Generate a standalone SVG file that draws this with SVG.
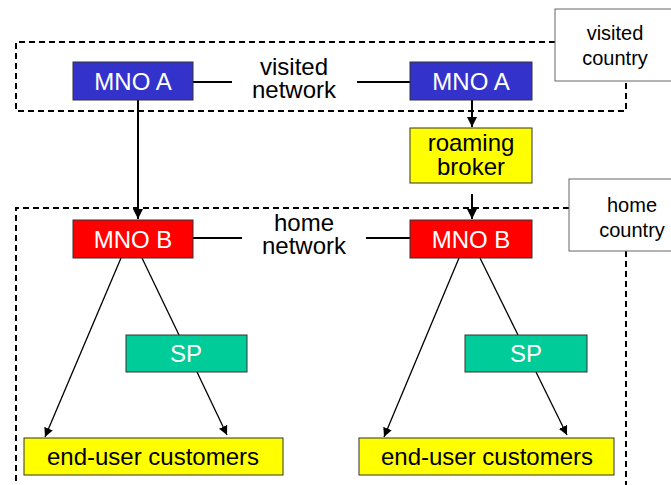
<svg xmlns="http://www.w3.org/2000/svg" width="671" height="485" viewBox="0 0 671 485">
  <style>
    text { font-family: "Liberation Sans", Arial, sans-serif; font-size: 24px; text-anchor: middle; }
    .box { stroke: #333; stroke-width: 1; }
    .light { fill: #fff; }
    .dark { fill: #000; }
    .tag { fill: #fff; stroke: #666; stroke-width: 1; }
    .tag-text { font-size: 20px; fill: #000; }
    .zone { fill: none; stroke: #000; stroke-width: 2; stroke-dasharray: 6 4; }
    .link { fill: none; stroke: #000; stroke-width: 2; }
    .thin { fill: none; stroke: #000; stroke-width: 1.3; }
  </style>
  <defs>
    <marker id="arrow" viewBox="0 0 10 10" refX="10" refY="5" markerWidth="5" markerHeight="5" orient="auto" markerUnits="strokeWidth">
      <path d="M0,0 L10,5 L0,10 z" fill="#000"/>
    </marker>
    <marker id="arrow-thin" viewBox="0 0 10 10" refX="10" refY="5" markerWidth="7" markerHeight="7" orient="auto" markerUnits="strokeWidth">
      <path d="M0,0 L10,5 L0,10 z" fill="#000"/>
    </marker>
  </defs>

  <rect width="671" height="485" fill="#fff"/>

  <!-- country zones (dashed) -->
  <g id="zones">
    <path class="zone" d="M555,42 H16 V111 H626 V81"/>
    <path class="zone" d="M569,208 H16 V490 M626,251 V490"/>
  </g>

  <!-- connectors -->
  <g id="connectors">
    <line class="link" x1="193" y1="82" x2="232" y2="82"/>
    <line class="link" x1="357" y1="82" x2="410" y2="82"/>
    <line class="link" x1="193" y1="238" x2="242" y2="238"/>
    <line class="link" x1="366" y1="238" x2="410" y2="238"/>
    <line class="link" x1="138" y1="100" x2="138" y2="219" marker-end="url(#arrow)"/>
    <line class="link" x1="472" y1="100" x2="472" y2="127" marker-end="url(#arrow)"/>
    <line class="link" x1="472" y1="194" x2="472" y2="219" marker-end="url(#arrow)"/>
    <line class="thin" x1="121" y1="258" x2="45" y2="437" marker-end="url(#arrow-thin)"/>
    <line class="thin" x1="142" y1="258" x2="179" y2="335"/>
    <line class="thin" x1="197" y1="372" x2="227" y2="435" marker-end="url(#arrow-thin)"/>
    <line class="thin" x1="459" y1="258" x2="384" y2="437" marker-end="url(#arrow-thin)"/>
    <line class="thin" x1="480" y1="258" x2="518" y2="335"/>
    <line class="thin" x1="536" y1="372" x2="567" y2="435" marker-end="url(#arrow-thin)"/>
  </g>

  <g id="visited-country">
    <rect class="tag" x="555" y="9" width="120" height="72"/>
    <text class="tag-text" x="615" y="40">visited</text>
    <text class="tag-text" x="615" y="65">country</text>
  </g>
  <g id="home-country">
    <rect class="tag" x="569" y="179" width="106" height="72"/>
    <text class="tag-text" x="632" y="212">home</text>
    <text class="tag-text" x="632" y="237">country</text>
  </g>

  <g id="visited-network">
    <text x="294" y="75">visited</text>
    <text x="294" y="98">network</text>
  </g>
  <g id="home-network">
    <text x="304" y="231">home</text>
    <text x="304" y="254">network</text>
  </g>

  <g id="mno-a-left">
    <rect class="box" x="73" y="62" width="120" height="38" fill="#3333cc"/>
    <text class="light" x="133" y="90">MNO A</text>
  </g>
  <g id="mno-a-right">
    <rect class="box" x="410" y="62" width="122" height="38" fill="#3333cc"/>
    <text class="light" x="471" y="90">MNO A</text>
  </g>
  <g id="roaming-broker">
    <rect class="box" x="410" y="128" width="122" height="55" fill="#ffff00"/>
    <text class="dark" x="471" y="151">roaming</text>
    <text class="dark" x="471" y="175">broker</text>
  </g>
  <g id="mno-b-left">
    <rect class="box" x="73" y="220" width="120" height="38" fill="#ff0000"/>
    <text class="light" x="133" y="248">MNO B</text>
  </g>
  <g id="mno-b-right">
    <rect class="box" x="410" y="220" width="122" height="38" fill="#ff0000"/>
    <text class="light" x="471" y="248">MNO B</text>
  </g>
  <g id="sp-left">
    <rect class="box" x="126" y="335" width="121" height="37" fill="#00cc99"/>
    <text class="light" x="186" y="362">SP</text>
  </g>
  <g id="sp-right">
    <rect class="box" x="465" y="335" width="122" height="37" fill="#00cc99"/>
    <text class="light" x="526" y="362">SP</text>
  </g>
  <g id="customers-left">
    <rect class="box" x="24" y="438" width="259" height="37" fill="#ffff00"/>
    <text class="dark" x="153" y="465">end-user customers</text>
  </g>
  <g id="customers-right">
    <rect class="box" x="359" y="438" width="255" height="37" fill="#ffff00"/>
    <text class="dark" x="487" y="465">end-user customers</text>
  </g>
</svg>
